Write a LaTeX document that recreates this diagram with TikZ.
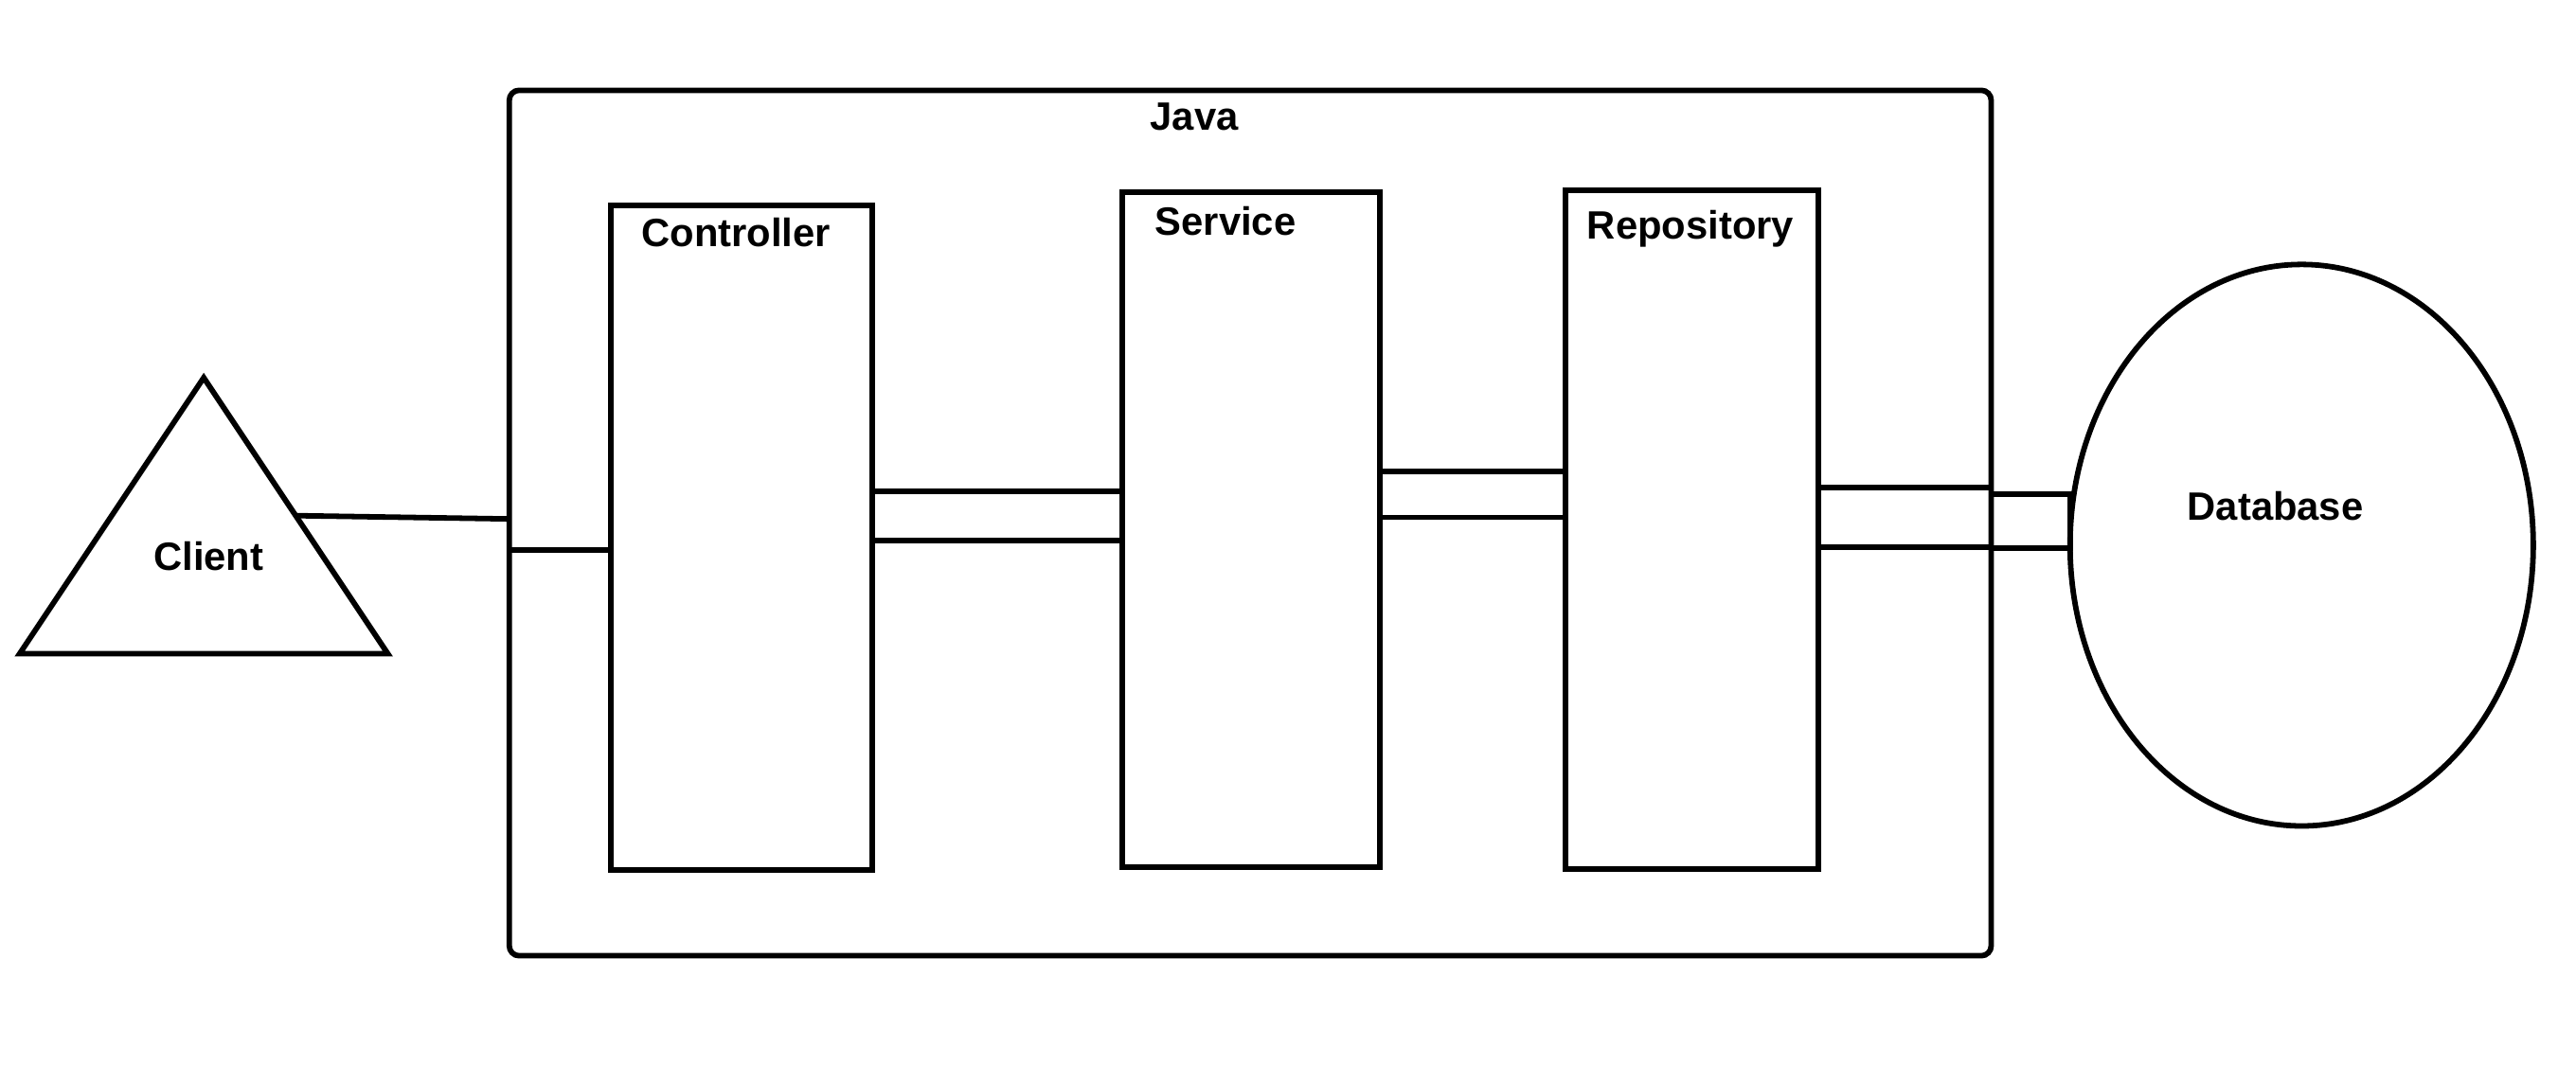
\documentclass[tikz,border=0pt]{standalone}
\usepackage{fontspec}
\setmainfont{Liberation Sans}
\usetikzlibrary{positioning,fit,calc,shapes.geometric}

\begin{document}
\begin{tikzpicture}[x=0.02cm, y=-0.02cm, line width=1.9pt,
  box/.style={draw, rectangle, inner sep=0pt, outer sep=0pt},
  lbl/.style={inner sep=0pt, font=\fontsize{13.7}{16}\selectfont\bfseries}]
  \useasboundingbox (0,0) rectangle (1568,648);

  % client
  \coordinate (tl) at (12,398);
  \coordinate (tt) at (124,230);
  \coordinate (tr) at (236,398);
  \draw (tl) -- (tt) -- (tr) -- cycle;
  \node [lbl] (client) at (127,339) {Client};
  \coordinate (cl) at ($(tt)!0.5!(tr)$);

  % java app and its layers
  \node [box, rounded corners=0.12cm, fit={(310,55) (1212,582)}] (java) {};
  \node [lbl, below=0.12cm of java.north, xshift=-0.68cm] (ttl) {Java};

  \node [box, fit={(372,125) (531,530)}] (ctrl) {};
  \node [lbl, below=0.12cm of ctrl.north, xshift=-0.07cm] (ttl1) {Controller};
  \node [box, fit={(683,117) (840,528)}] (svc) {};
  \node [lbl, below=0.14cm of svc.north, xshift=-0.31cm] (ttl2) {Service};
  \node [box, fit={(953,116) (1107,529)}] (repo) {};
  \node [lbl, below=0.21cm of repo.north, xshift=-0.02cm] (ttl3) {Repository};

  % database
  \node [draw, ellipse, inner sep=0pt, outer sep=0pt, minimum width=5.64cm,
         minimum height=6.84cm] (db) at (1401,332) {};
  \node [lbl, xshift=-0.32cm, yshift=0.48cm] (ttl4) at (db) {Database};

  % links
  \draw (cl) -- (java.west |- 0,316);
  \draw (java.west |- 0,335) -- (ctrl.west |- 0,335);
  \draw (ctrl.east |- 0,299) rectangle (svc.west |- 0,329);
  \draw (svc.east |- 0,287) rectangle (repo.west |- 0,315);
  \draw (repo.east |- 0,297) rectangle (java.east |- 0,333);
  \draw (java.east |- 0,301) rectangle (db.west |- 0,334);
\end{tikzpicture}
\end{document}
